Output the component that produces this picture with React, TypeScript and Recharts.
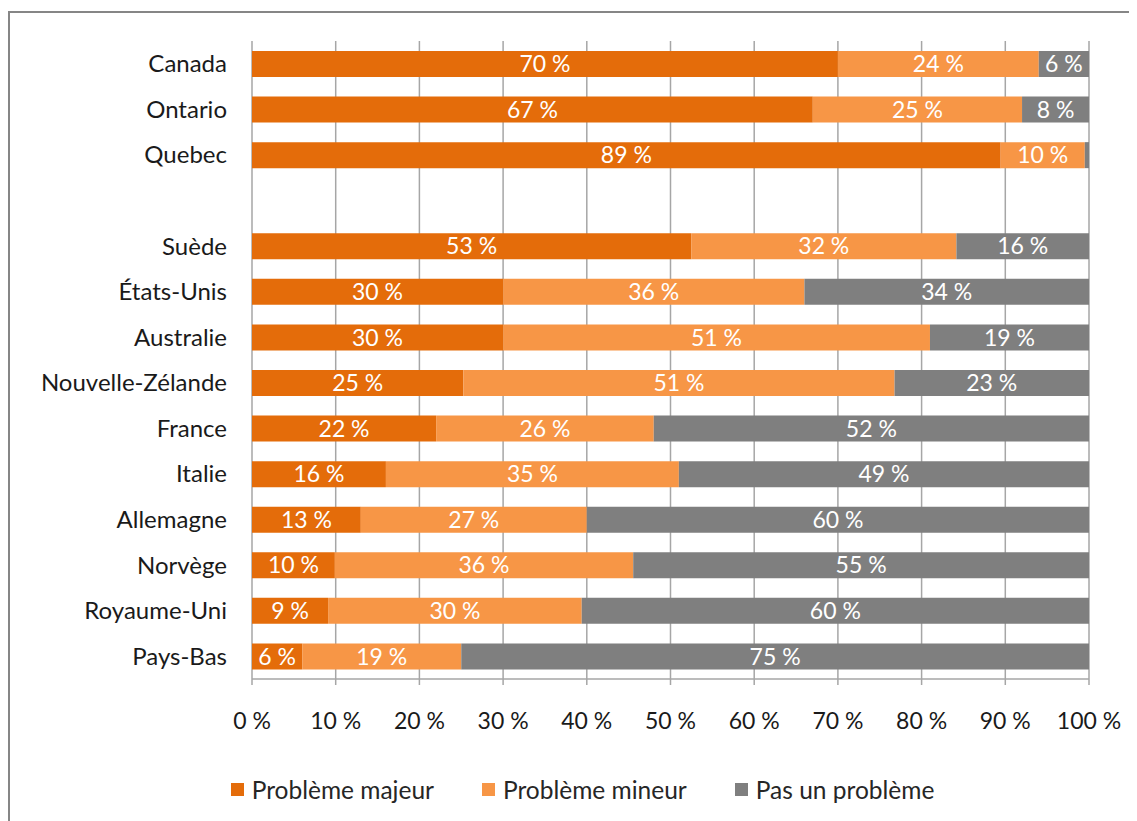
import React from 'react';
import { BarChart, Bar, XAxis, YAxis, CartesianGrid, Legend, LabelList } from 'recharts';

const categories = ['Canada', 'Ontario', 'Quebec', '', 'Suède', 'États-Unis', 'Australie', 'Nouvelle-Zélande', 'France', 'Italie', 'Allemagne', 'Norvège', 'Royaume-Uni', 'Pays-Bas'];
const majeur = [70, 67, 89, 0, 53, 30, 30, 25, 22, 16, 13, 10, 9, 6];
const mineur = [24, 25, 10, 0, 32, 36, 51, 51, 26, 35, 27, 36, 30, 19];
const pasUn = [6, 8, 0.5, 0, 16, 34, 19, 23, 52, 49, 60, 55, 60, 75];
const xTicks = [0, 0.1, 0.2, 0.3, 0.4, 0.5, 0.6, 0.7, 0.8, 0.9, 1];
const frameTicks = [0, 1, 2, 3, 4, 5, 6, 7, 8, 9, 10, 11, 12, 13, 14];

const data = categories.map((name, i) => ({
  name,
  majeur: majeur[i],
  mineur: mineur[i],
  pasUn: pasUn[i],
}));

const series = [
  { key: 'majeur', name: 'Problème majeur', color: '#E46C0A' },
  { key: 'mineur', name: 'Problème mineur', color: '#F79646' },
  { key: 'pasUn', name: 'Pas un problème', color: '#7F7F7F' },
];

const FONT = 'Lato, "Liberation Sans", sans-serif';
const GRID = '#A6A6A6';

const LegendContent = () => (
  <div style={{ display: 'flex', justifyContent: 'center', alignItems: 'center', height: 40, paddingLeft: 68, fontFamily: FONT, fontSize: 24.5, color: '#262626' }}>
    {series.map((s) => (
      <div key={s.key} style={{ display: 'flex', alignItems: 'center', margin: '0 24px' }}>
        <span style={{ width: 13, height: 13, background: s.color, display: 'inline-block', marginRight: 8 }} />
        <span>{s.name}</span>
      </div>
    ))}
  </div>
);

const App = () => {
  const fmt = (v: any) => (typeof v === 'number' && v >= 1 ? `${v} %` : '');
  return (
    <div style={{ position: 'relative', width: 1129, height: 813, overflow: 'hidden', fontFamily: FONT }}>
      <div style={{ position: 'absolute', left: 0, top: 3, width: 1200, height: 900, borderTop: '2px solid #868686', borderLeft: '2px solid #868686' }} />
      <BarChart
        width={1129}
        height={813}
        data={data}
        layout="vertical"
        stackOffset="expand"
        barSize={26}
        margin={{ top: 33, right: 48, left: 0, bottom: 12 }}
        style={{ position: 'absolute', left: 0, top: 0 }}
      >
        <CartesianGrid horizontal={false} stroke={GRID} strokeWidth={1.5} />
        <XAxis
          type="number"
          domain={[0, 1]}
          ticks={xTicks}
          tickFormatter={(v) => `${Math.round(v * 100)} %`}
          axisLine={{ stroke: GRID, strokeWidth: 1.5 }}
          tickLine={{ stroke: GRID, strokeWidth: 1.5 }}
          tickSize={6}
          tickMargin={28}
          height={90}
          tick={{ fill: '#1A1A1A', fontSize: 23, fontFamily: FONT }}
        />
        <YAxis
          yAxisId="frame"
          type="number"
          domain={[0, 14]}
          ticks={frameTicks}
          tick={false}
          tickSize={5}
          tickLine={{ stroke: GRID, strokeWidth: 1.5 }}
          axisLine={{ stroke: GRID, strokeWidth: 1.5 }}
          width={0}
        />
        <YAxis
          type="category"
          dataKey="name"
          width={244}
          tickLine={false}
          axisLine={false}
          tickSize={0}
          tickMargin={25}
          interval={0}
          tick={{ fill: '#1A1A1A', fontSize: 24, fontFamily: FONT }}
        />
        <Legend verticalAlign="bottom" content={<LegendContent />} />
        {series.map((s) => (
          <Bar key={s.key} dataKey={s.key} name={s.name} stackId="a" fill={s.color} isAnimationActive={false}>
            <LabelList dataKey={s.key} position="center" formatter={fmt} fill="#FFFFFF" fontSize={23} fontFamily={FONT} />
          </Bar>
        ))}
      </BarChart>
    </div>
  );
};

export default App;
